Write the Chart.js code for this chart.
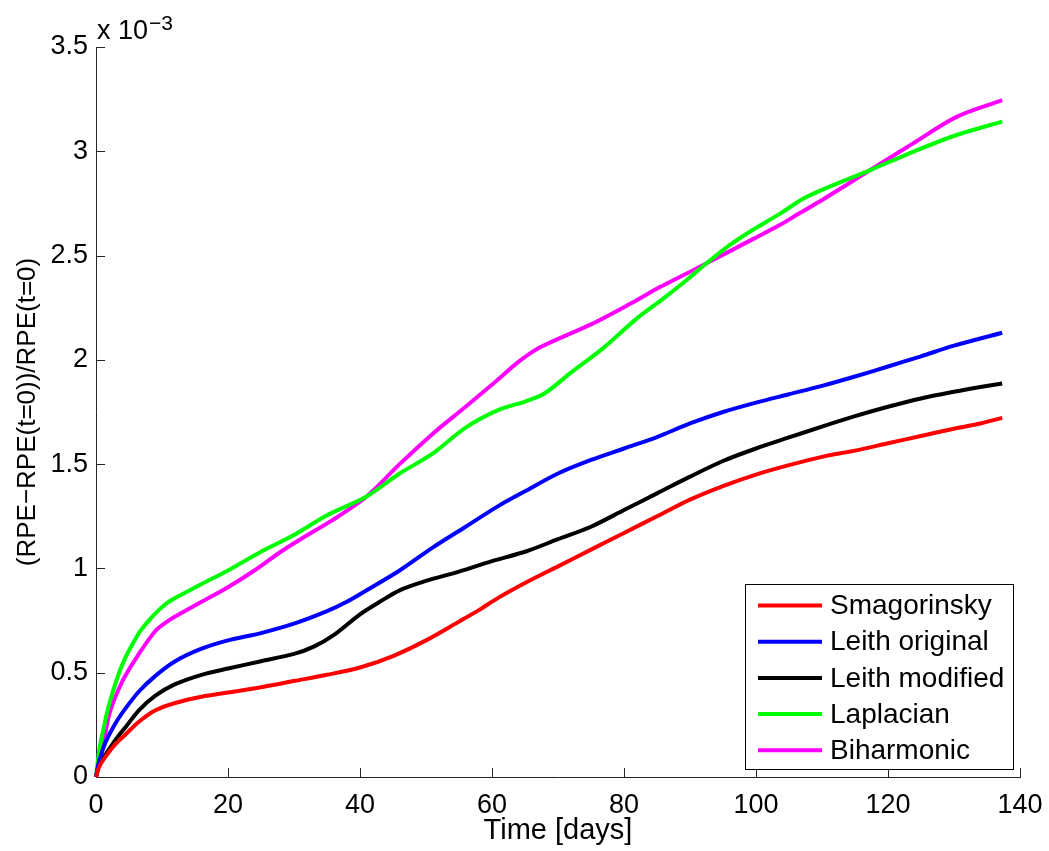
<!DOCTYPE html>
<html lang="en">
<head>
<meta charset="UTF-8">
<title>RPE change over time</title>
<script src="https://cdn.jsdelivr.net/npm/chart.js"></script>
<style>
  body { margin: 0; background: #fff; }
  #wrap { width: 1049px; height: 851px; }
</style>
</head>
<body>
<div id="wrap"><canvas id="rpeChart" width="1049" height="851"></canvas></div>
<script>
// values are in units of 1e-3 (the axis carries the x 10^-3 multiplier)
const smagDays = [0, 0.5, 1.5, 3, 4.5, 6.5, 9, 12, 16, 20, 25, 30, 35, 40, 45, 50, 55, 58, 61, 65, 70, 75, 80, 85, 90, 95, 100, 105, 110, 115, 120, 125, 130, 134, 137.3];
const smagVals = [0, 0.05, 0.10, 0.16, 0.205, 0.265, 0.32, 0.355, 0.385, 0.405, 0.43, 0.46, 0.49, 0.525, 0.58, 0.655, 0.745, 0.80, 0.86, 0.93, 1.01, 1.09, 1.17, 1.25, 1.33, 1.395, 1.45, 1.495, 1.535, 1.565, 1.60, 1.635, 1.67, 1.695, 1.722];

const leithOrigDays = [0, 0.5, 1.5, 3, 4.5, 6.5, 9, 12, 16, 20, 25, 30, 35, 38, 41, 46, 51, 56, 61, 65, 70, 75, 80, 85, 90, 95, 100, 105, 110, 115, 120, 125, 130, 137.3];
const leithOrigVals = [0, 0.08, 0.17, 0.26, 0.33, 0.41, 0.485, 0.555, 0.615, 0.655, 0.69, 0.735, 0.795, 0.84, 0.895, 0.99, 1.10, 1.20, 1.30, 1.37, 1.455, 1.52, 1.575, 1.63, 1.695, 1.75, 1.795, 1.835, 1.875, 1.92, 1.968, 2.017, 2.068, 2.13];

const leithModDays = [0, 0.5, 1.5, 3, 4.5, 6.5, 9, 12, 16, 20, 25, 30, 33, 36, 40, 43, 46, 50, 55, 60, 65, 70, 75, 80, 85, 90, 95, 100, 105, 110, 115, 120, 125, 130, 134, 137.3];
const leithModVals = [0, 0.06, 0.11, 0.18, 0.24, 0.32, 0.39, 0.445, 0.49, 0.52, 0.555, 0.59, 0.625, 0.68, 0.78, 0.84, 0.895, 0.94, 0.985, 1.035, 1.08, 1.14, 1.20, 1.28, 1.36, 1.44, 1.515, 1.575, 1.628, 1.68, 1.73, 1.775, 1.815, 1.847, 1.87, 1.887];

const lapDays = [0, 0.5, 1, 2, 4, 6.5, 8, 9.5, 11, 13, 16, 20, 25, 30, 35, 41, 46, 51, 56, 61, 65, 68, 72, 77, 82, 86, 89.5, 92.5, 96, 99.6, 103.6, 107, 110, 117.3, 124, 130.4, 137.3];
const lapVals = [0, 0.13, 0.21, 0.35, 0.54, 0.69, 0.75, 0.80, 0.84, 0.875, 0.925, 0.99, 1.08, 1.16, 1.255, 1.345, 1.455, 1.55, 1.675, 1.76, 1.80, 1.84, 1.94, 2.06, 2.20, 2.295, 2.383, 2.463, 2.55, 2.625, 2.70, 2.77, 2.815, 2.91, 3.0, 3.078, 3.142];

const bihDays = [0, 0.5, 1, 2, 4, 6.5, 9, 11, 12.6, 16, 20, 24, 28, 31, 36, 41, 46, 51, 56, 60.7, 64, 67.3, 75, 81, 85.5, 88, 92.5, 99.6, 103.6, 106.7, 110.2, 117.3, 123.8, 130.4, 137.3];
const bihVals = [0, 0.08, 0.13, 0.30, 0.46, 0.59, 0.70, 0.75, 0.78, 0.84, 0.91, 0.99, 1.08, 1.14, 1.235, 1.345, 1.50, 1.645, 1.775, 1.90, 1.99, 2.06, 2.17, 2.27, 2.35, 2.39, 2.463, 2.58, 2.646, 2.705, 2.77, 2.91, 3.038, 3.165, 3.245];

const xTicks = [0, 20, 40, 60, 80, 100, 120, 140];
const yTicks = [0, 0.5, 1, 1.5, 2, 2.5, 3, 3.5];

const FONT = '"Liberation Sans", Arial, Helvetica, sans-serif';

function series(label, days, vals, color) {
  return {
    label: label,
    data: days.map((d, i) => ({ x: d, y: vals[i] })),
    borderColor: color,
    backgroundColor: color,
    borderWidth: 4,
    pointRadius: 0,
    tension: 0.3,
    fill: false,
    clip: 6
  };
}

// MATLAB-like axes: only left and bottom lines, ticks pointing inward, exponent label
const axesPlugin = {
  id: 'matlabAxes',
  beforeDatasetsDraw(chart) {
    const { ctx, chartArea: a, scales: { x, y } } = chart;
    ctx.save();
    ctx.strokeStyle = '#262626';
    ctx.lineWidth = 1;
    ctx.beginPath();
    ctx.moveTo(a.left + 0.5, a.top);
    ctx.lineTo(a.left + 0.5, a.bottom + 0.5);
    ctx.lineTo(a.right + 1, a.bottom + 0.5);
    xTicks.forEach(v => {
      const px = Math.round(x.getPixelForValue(v)) + 0.5;
      ctx.moveTo(px, a.bottom);
      ctx.lineTo(px, a.bottom - 9);
    });
    yTicks.forEach(v => {
      const py = Math.round(y.getPixelForValue(v)) + 0.5;
      ctx.moveTo(a.left, py);
      ctx.lineTo(a.left + 9, py);
    });
    ctx.stroke();

    ctx.fillStyle = '#000';
    ctx.textBaseline = 'alphabetic';
    ctx.textAlign = 'left';
    ctx.font = '27px ' + FONT;
    const base = 'x 10';
    ctx.fillText(base, a.left + 1, a.top - 8);
    const w = ctx.measureText(base).width;
    ctx.font = '21px ' + FONT;
    ctx.fillText('\u22123', a.left + 1 + w + 1, a.top - 17);
    ctx.restore();
  },
  afterDraw(chart) {
    const { ctx, chartArea: a } = chart;
    const boxW = 268, boxH = 185;
    const left = a.right - 7 - boxW;
    const top = a.bottom - 8 - boxH;
    ctx.save();
    ctx.fillStyle = '#fff';
    ctx.fillRect(left, top, boxW, boxH);
    ctx.strokeStyle = '#000';
    ctx.lineWidth = 1;
    ctx.strokeRect(left + 0.5, top + 0.5, boxW, boxH);
    ctx.font = '28px ' + FONT;
    ctx.textBaseline = 'middle';
    ctx.textAlign = 'left';
    chart.data.datasets.forEach((ds, i) => {
      const cy = top + 21.5 + i * 36.2;
      ctx.strokeStyle = ds.borderColor;
      ctx.lineWidth = 4;
      ctx.beginPath();
      ctx.moveTo(left + 13, cy);
      ctx.lineTo(left + 77, cy);
      ctx.stroke();
      ctx.fillStyle = '#000';
      ctx.fillText(ds.label, left + 85, cy + 1);
    });
    ctx.restore();
  }
};

new Chart(document.getElementById('rpeChart'), {
  type: 'line',
  data: {
    datasets: [
      series('Smagorinsky', smagDays, smagVals, '#ff0000'),
      series('Leith original', leithOrigDays, leithOrigVals, '#0000ff'),
      series('Leith modified', leithModDays, leithModVals, '#000000'),
      series('Laplacian', lapDays, lapVals, '#00ff00'),
      series('Biharmonic', bihDays, bihVals, '#ff00ff')
    ]
  },
  options: {
    responsive: false,
    animation: false,
    layout: { padding: { top: 47, right: 29, left: 0, bottom: 0 } },
    plugins: { legend: { display: false }, tooltip: { enabled: false } },
    scales: {
      x: {
        type: 'linear',
        min: 0,
        max: 140,
        afterBuildTicks: s => { s.ticks = xTicks.map(v => ({ value: v })); },
        afterFit: s => { s.height = 74; },
        grid: { display: false },
        border: { display: false },
        ticks: { color: '#000', font: { family: FONT, size: 27 }, padding: 4, maxRotation: 0, autoSkip: false,
                 callback: v => String(v) },
        title: { display: true, text: 'Time [days]', color: '#000', font: { family: FONT, size: 29 }, padding: { top: 0, bottom: 3 } }
      },
      y: {
        type: 'linear',
        min: 0,
        max: 3.5,
        afterBuildTicks: s => { s.ticks = yTicks.map(v => ({ value: v })); },
        afterFit: s => { s.width = 96; },
        grid: { display: false },
        border: { display: false },
        ticks: { color: '#000', font: { family: FONT, size: 27 }, padding: 0, autoSkip: false,
                 callback: v => String(v) },
        title: { display: true, text: '(RPE\u2212RPE(t=0))/RPE(t=0)', color: '#000', font: { family: FONT, size: 26 }, padding: { top: 12, bottom: 0 } }
      }
    }
  },
  plugins: [axesPlugin]
});
</script>
</body>
</html>
